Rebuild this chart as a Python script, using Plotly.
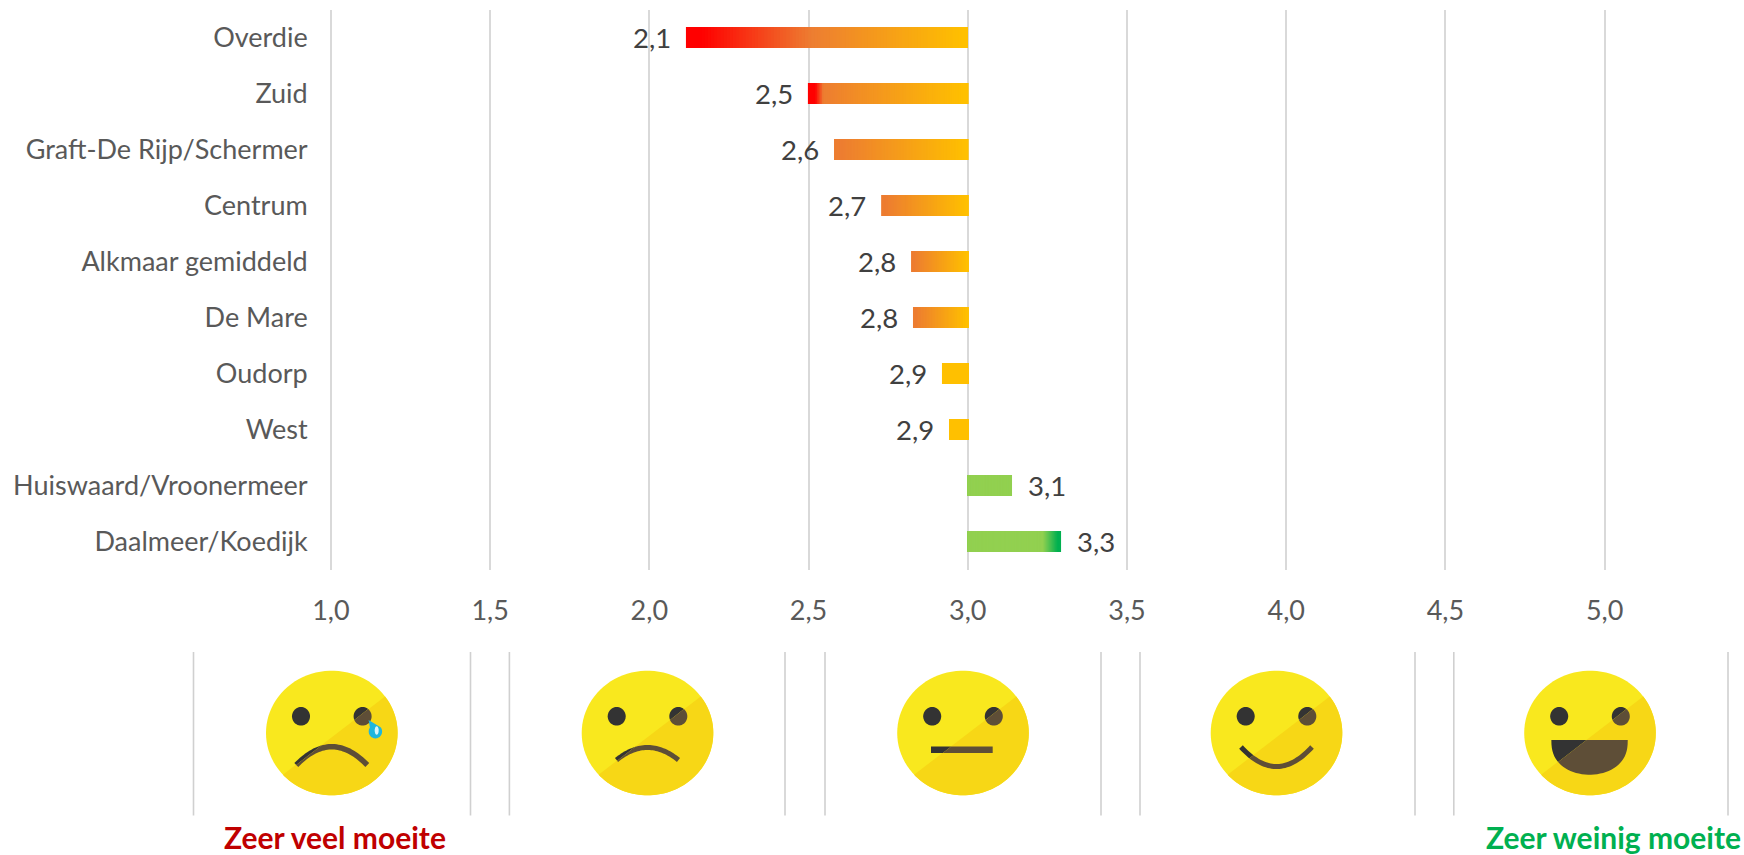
import numpy as np
import plotly.graph_objects as go

W, H = 1744, 855

categories = ["Overdie", "Zuid", "Graft-De Rijp/Schermer", "Centrum", "Alkmaar gemiddeld",
              "De Mare", "Oudorp", "West", "Huiswaard/Vroonermeer", "Daalmeer/Koedijk"]
values = [2.115, 2.498, 2.58, 2.728, 2.822, 2.828, 2.919, 2.941, 3.139, 3.293]
neutral = 3.0
x_ticks = [1.0, 1.5, 2.0, 2.5, 3.0, 3.5, 4.0, 4.5, 5.0]

RED, ORANGE, AMBER, LIME, GREEN = "#FF0000", "#ED7D31", "#FFC000", "#92D050", "#00B050"
orange_amber = [(0, ORANGE), (0.05, ORANGE), (0.98, AMBER), (1, AMBER)]
stops = [
    [(0, RED), (0.05, RED), (0.44, ORANGE), (0.98, AMBER), (1, AMBER)],
    [(0, RED), (0.04, RED), (0.09, ORANGE), (0.97, AMBER), (1, AMBER)],
    orange_amber, orange_amber, orange_amber, orange_amber,
    [(0, AMBER), (1, AMBER)],
    [(0, AMBER), (1, AMBER)],
    [(0, LIME), (1, LIME)],
    [(0, LIME), (0.81, LIME), (0.97, GREEN), (1, GREEN)],
]


def rgb(h):
    return np.array([int(h[i:i + 2], 16) for i in (1, 3, 5)], float)


def sample(st, t):
    for (a, ca), (b, cb) in zip(st, st[1:]):
        if t <= b:
            f = 0 if b == a else (t - a) / (b - a)
            c = rgb(ca) * (1 - f) + rgb(cb) * f
            return "rgb(%d,%d,%d)" % tuple(np.clip(c, 0, 255).round())
    return st[-1][1]


FONT = "Lato, Carlito, Calibri, sans-serif"
fig = go.Figure()

# nested bars, longest first, painted over by shorter ones: gives a seamless gradient
N = 90
for k in range(N):
    f = 1 - k / N
    xs, cols = [], []
    for v, st in zip(values, stops):
        xs.append((v - neutral) * f)
        t = (1 - f) if v < neutral else f
        cols.append(sample(st, t))
    fig.add_trace(go.Bar(y=categories, x=xs, base=neutral, orientation="h", width=0.375,
                         marker=dict(color=cols, line=dict(width=0)),
                         hoverinfo="skip", showlegend=False))

for c, v in zip(categories, values):
    left = v < neutral
    fig.add_annotation(x=v, y=c, text=f"{v:.1f}".replace(".", ","), showarrow=False,
                       xanchor="right" if left else "left", xshift=-13 if left else 14, yshift=0,
                       font=dict(family=FONT, size=27.5, color="#404040"))

# ---- emoji strip drawn with shapes in page pixels ----
shapes = []


def px(x):
    return x / W


def py(y):
    return 1 - y / H


def path(pts, close=True):
    s = "M" + " L".join(f"{px(x):.5f},{py(y):.5f}" for x, y in pts)
    return s + (" Z" if close else "")


def add_poly(pts, color):
    shapes.append(dict(type="path", xref="paper", yref="paper", path=path(pts),
                       fillcolor=color, line=dict(width=0), layer="above"))


def side(p):
    return 76 * p[0] + 98 * p[1] - 424


def clip(pts, keep_dark):
    out = []
    sgn = 1 if keep_dark else -1
    for a, b in zip(pts, pts[1:] + pts[:1]):
        fa, fb = sgn * side(a), sgn * side(b)
        if fa >= 0:
            out.append(a)
        if (fa >= 0) != (fb >= 0):
            t = fa / (fa - fb)
            out.append((a[0] + (b[0] - a[0]) * t, a[1] + (b[1] - a[1]) * t))
    return out


def ell(cx, cy, rx, ry, n=48):
    a = np.linspace(0, 2 * np.pi, n, endpoint=False)
    return list(zip(cx + rx * np.cos(a), cy + ry * np.sin(a)))


BRIGHT, DEEP, INK, BROWN = "#F9E81E", "#F7D716", "#333333", "#5E4E37"
RX, RY, FY = 65.8, 62.3, 733


def two_tone(local, cx, light=INK, dark=BROWN):
    p1, p2 = clip(local, False), clip(local, True)
    if len(p1) > 2:
        add_poly([(cx + x, FY + y) for x, y in p1], light)
    if len(p2) > 2:
        add_poly([(cx + x, FY + y) for x, y in p2], dark)


def stroke(p0, c, p1, w, n=40):
    t = np.linspace(0, 1, n)
    x = (1 - t) ** 2 * p0[0] + 2 * t * (1 - t) * c[0] + t ** 2 * p1[0]
    y = (1 - t) ** 2 * p0[1] + 2 * t * (1 - t) * c[1] + t ** 2 * p1[1]
    dx, dy = np.gradient(x), np.gradient(y)
    L = np.hypot(dx, dy)
    nx, ny = -dy / L * w / 2, dx / L * w / 2
    return list(zip(x + nx, y + ny)) + list(zip(x - nx, y - ny))[::-1]


def face(cx, mouth):
    add_poly(ell(cx, FY, RX, RY, 90), BRIGHT)
    a = np.radians(np.linspace(-36, 138, 70))
    add_poly(list(zip(cx + RX * np.cos(a), FY + RY * np.sin(a))), DEEP)
    two_tone(ell(-30.8, -16.7, 9, 9.3), cx)
    two_tone(ell(30.8, -16.7, 9, 9.3), cx)
    two_tone(mouth, cx)


centers = [331.8, 647.5, 963, 1276.5, 1590]
separators = [193.5, 470.5, 509.4, 785, 825, 1101, 1140, 1415, 1453.8, 1728]
for s in separators:
    shapes.append(dict(type="line", xref="paper", yref="paper", x0=px(s), x1=px(s),
                       y0=py(652), y1=py(815.5), line=dict(color="#D0D0D0", width=1.6), layer="above"))

face(centers[0], stroke((-35.5, 32), (0, -4.5), (35.5, 32), 5.5))
a = np.radians(np.linspace(-35, 215, 40))
tear = [(368.6, 720)] + list(zip(375.4 + 6.7 * np.cos(a), 731.5 + 6.9 * np.sin(a)))
add_poly(tear, "#1FB6DE")
add_poly(ell(376.7, 730.5, 2, 4.2, 20), "#D8F4FA")

face(centers[1], stroke((-31, 27), (0, 2), (31, 27), 5))
face(centers[2], [(-32, 13.5), (29.7, 13.5), (29.7, 20), (-32, 20)])
face(centers[3], stroke((-35.5, 14), (0, 53), (35.5, 14), 5))
a = np.radians(np.linspace(0, 180, 40))
face(centers[4], [(-38.7, 7), (37.8, 7)] + list(zip(-0.45 + 38.2 * np.cos(a), 7 + 34.7 * np.sin(a) ** 0.8)))

for txt, col, xc in [("Zeer veel moeite", "#C00000", 335), ("Zeer weinig moeite", "#00B050", 1613)]:
    fig.add_annotation(xref="paper", yref="paper", x=px(xc), y=py(836.5), text=f"<b>{txt}</b>", showarrow=False,
                       xanchor="center", yanchor="middle", font=dict(family=FONT, size=30, color=col))

fig.update_layout(
    width=W, height=H, autosize=False, margin=dict(l=0, r=0, t=0, b=0, autoexpand=False),
    paper_bgcolor="white", plot_bgcolor="white", barmode="overlay", separators=", ",
    showlegend=False, shapes=shapes,
    xaxis=dict(domain=[327.7 / W, 1732 / W], range=[0.99, 5.4], tickvals=x_ticks, tickformat=".1f",
               showgrid=True, gridcolor="#D9D9D9", gridwidth=2, zeroline=False, showline=False,
               ticks="", ticklabelstandoff=22, tickfont=dict(family=FONT, size=27, color="#595959")),
    yaxis=dict(domain=[1 - 569.5 / H, 1 - 9.5 / H], range=[9.5, -0.5], type="category",
               categoryorder="array", categoryarray=categories, showgrid=False, zeroline=False,
               showline=False, ticks="", ticklabelstandoff=19,
               tickfont=dict(family=FONT, size=27, color="#595959")),
)
fig.write_html("out.html", config={"displayModeBar": False},
               post_script="document.body.style.margin='0';document.body.style.overflow='hidden';")
